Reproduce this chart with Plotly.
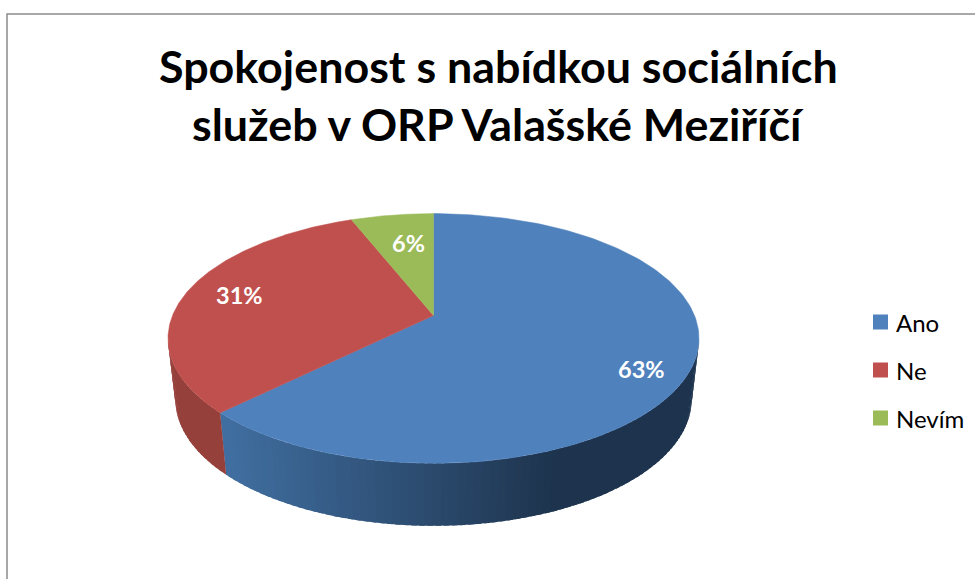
"""3D-look pie of satisfaction with social services, drawn on a pixel-sized axis."""
import numpy as np
import plotly.graph_objects as go

TITLE_LINES = ["Spokojenost s nabídkou sociálních", "služeb v ORP Valašské Meziříčí"]
CATEGORIES = ["Ano", "Ne", "Nevím"]
SHARES = [62.6, 31.4, 6]  # labels show them rounded
LABELS = ["63%", "31%", "6%"]
COLORS = ["#4F81BD", "#C0504D", "#9BBB59"]
SIDE_LIGHT = [(64, 110, 160), (150, 64, 60), (120, 145, 70)]
SIDE_DARK = [(30, 52, 78), (168, 68, 64), (120, 145, 70)]
LABEL_XY = [(641, 369), (239, 295), (408, 243)]
LEGEND_X, LEGEND_TEXT_X = 880.5, 894
LEGEND_Y = [322, 370, 418]

W, H = 975, 579
CX, APEX_Y = 433.5, 315.5
TILT = 0.184
KX, KY = 261.0, -62.6


def top_edge(theta):
    """Tilted disc: theta is degrees clockwise from 12 o'clock."""
    t = np.radians(theta)
    d = 1 + TILT * np.cos(t)
    return CX + KX * np.sin(t) / d, (KY * np.cos(t) + APEX_Y) / d


def bottom_edge(theta):
    x, y = top_edge(theta)
    return CX + (x - CX) * 0.972, 400 + (y - 339) * 1.012


def side_color(i, x):
    t = np.clip((x - 226) / (550 - 226), 0, 1)
    rgb = [round(a + (b - a) * t) for a, b in zip(SIDE_LIGHT[i], SIDE_DARK[i])]
    return "rgb({},{},{})".format(*rgb)


fig = go.Figure()

edges = np.cumsum([0] + SHARES) / sum(SHARES) * 360
SIDE_START, SIDE_END = 100.6, 259.4

# side wall first, thin strips for the shading; each overlaps the next to hide seams
for i in range(len(SHARES)):
    a, b = max(edges[i], SIDE_START), min(edges[i + 1], SIDE_END)
    if a >= b:
        continue
    steps = np.arange(a, b + 1.5, 1.5)
    steps[-1] = b
    for s0, s1 in zip(steps[:-1], steps[1:]):
        arc = np.linspace(s0, min(s1 + 1, b), 4)
        x0, y0 = top_edge(arc)
        x1, y1 = bottom_edge(arc[::-1])
        col = side_color(i, x0.mean())
        fig.add_trace(go.Scatter(
            x=np.r_[x0, x1], y=np.r_[y0, y1],
            mode="lines", fill="toself", fillcolor=col,
            line=dict(width=0),
            hoverinfo="skip", showlegend=False,
        ))

# top face
for i, name in enumerate(CATEGORIES):
    arc = np.linspace(edges[i], edges[i + 1], 200)
    x, y = top_edge(arc)
    fig.add_trace(go.Scatter(
        x=np.r_[CX, x, CX], y=np.r_[APEX_Y, y, APEX_Y],
        mode="lines", fill="toself", fillcolor=COLORS[i],
        line=dict(color=COLORS[i], width=0.5),
        name=name, text=f"{name}: {LABELS[i]}", hoverinfo="text", showlegend=False,
    ))

# legend swatches, plotly's own legend can't get this close to the text
fig.add_trace(go.Scatter(
    x=[LEGEND_X] * len(CATEGORIES), y=LEGEND_Y, mode="markers",
    marker=dict(color=COLORS, size=15, symbol="square"),
    hoverinfo="skip", showlegend=False,
))

for text, (lx, ly) in zip(LABELS, LABEL_XY):
    fig.add_annotation(
        x=lx, y=ly, text=f"<b>{text}</b>", showarrow=False,
        font=dict(family="Lato", size=23.5, color="white"),
    )

for name, ly in zip(CATEGORIES, LEGEND_Y):
    fig.add_annotation(
        x=LEGEND_TEXT_X, y=ly, text=name, showarrow=False, xanchor="left",
        font=dict(family="Lato", size=24, color="black"),
    )

for line, ly in zip(TITLE_LINES, [66, 124]):
    fig.add_annotation(
        x=498, y=ly, text=f"<b>{line}</b>", showarrow=False,
        font=dict(family="Lato", size=44.8, color="black"),
    )

fig.add_shape(type="rect", x0=7, y0=14, x1=W + 20, y1=H + 20,
              line=dict(color="#8c8c8c", width=1.5), layer="below")

fig.update_layout(
    width=W,
    height=H,
    margin=dict(l=0, r=0, t=0, b=0),
    paper_bgcolor="white",
    plot_bgcolor="white",
    xaxis=dict(range=[0, W], visible=False, fixedrange=True),
    yaxis=dict(range=[H, 0], visible=False, fixedrange=True),
    showlegend=False,
)

fig.write_html(
    "out.html",
    config=dict(displayModeBar=False),
    post_script="document.body.style.margin = '0';",
)
